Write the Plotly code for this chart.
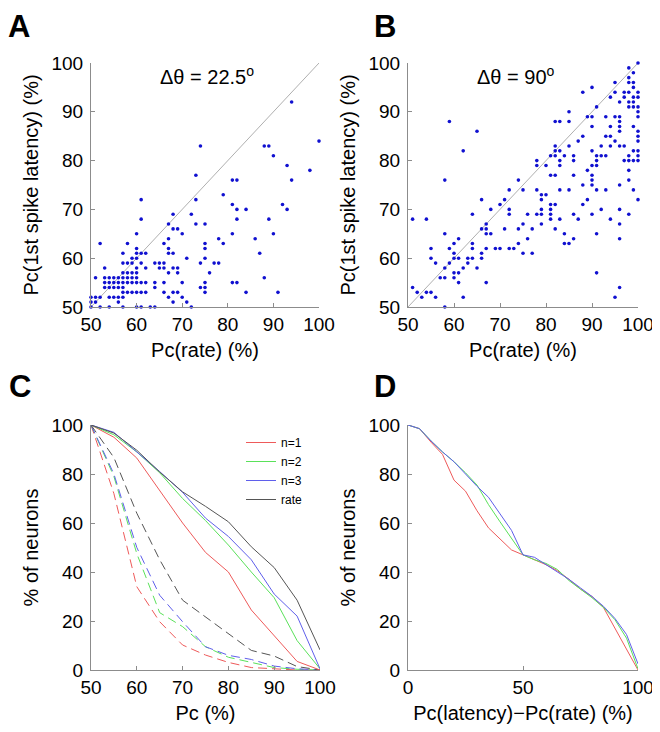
import plotly.graph_objects as go

# ---------------- data ----------------
# Panel A: (Pc(rate), Pc(1st spike latency)) for dtheta = 22.5 deg
a_points = [
    (50,52),(50,51),(50,50),(51,56),(51,52),(51,51),(52,63),(52,52),(52,50),
    (53,58),(53,56),(53,55),(53,54),(54,56),(54,55),(54,54),(54,52),(54,50),
    (55,56),(55,55),(55,54),(55,52),(56,56),(56,55),(56,54),(56,52),(56,51),
    (57,61),(57,59),(57,57),(57,56),(57,55),(57,54),(57,53),(57,52),(57,50),
    (58,63),(58,59),(58,57),(58,56),(58,55),(58,53),
    (59,60),(59,59),(59,57),(59,56),(59,55),(59,53),
    (60,65),(60,62),(60,61),(60,60),(60,58),(60,57),(60,56),(60,55),(60,53),(60,50),
    (61,72),(61,68),(61,61),(61,59),(61,55),(61,53),(61,50),
    (62,61),(62,58),(62,55),(62,53),(63,50),(64,59),(64,55),(64,54),(64,50),
    (65,59),(65,58),(66,63),(66,59),(66,58),(66,55),(66,53),
    (67,67),(67,64),(67,62),(67,61),(67,57),(67,52),
    (68,69),(68,66),(68,61),(68,58),(68,53),(68,51),
    (69,66),(69,58),(69,57),(69,53),(70,65),(70,55),(70,52),(71,60),(71,51),(72,69),(72,50),
    (73,77),(73,72),(73,67),(74,83),(74,59),(74,54),
    (75,67),(75,63),(75,62),(75,60),(75,55),(75,54),(75,53),
    (76,57),(77,59),(78,64),(78,59),(79,73),(79,63),
    (81,76),(81,71),(81,65),(81,55),(82,76),(82,70),(82,68),(82,55),
    (84,70),(84,53),(86,64),(87,61),(88,83),(88,56),(89,83),(89,68),
    (90,81),(90,65),(91,53),(92,71),(93,79),(93,70),(94,92),(94,76),(98,78),(100,84),
]
# Panel B: dtheta = 90 deg
b_points = [
    (51,68),(51,54),(52,53),(53,52),(54,68),(54,53),(55,53),(55,62),(55,60),(56,59),
    (56,52),(57,56),(58,56),(58,65),(58,76),(58,58),(58,50),(59,88),(59,59),(59,62),
    (60,63),(60,61),(60,60),(60,57),(60,56),(61,57),(61,64),(61,60),(61,55),(62,82),
    (62,52),(62,58),(63,60),(63,59),(64,69),(64,63),(64,62),(64,60),(65,86),(65,58),
    (66,66),(66,61),(66,60),(66,72),(67,67),(67,66),(67,65),(67,62),(67,55),(68,70),
    (68,65),(69,62),(70,62),(70,71),(71,72),(71,66),(72,74),(72,70),(72,69),(72,62),
    (73,62),(74,76),(74,66),(74,63),(75,74),(75,67),(75,61),(76,69),(76,64),(77,66),
    (77,61),(78,80),(78,79),(78,74),(78,69),(79,73),(79,72),(79,70),(79,69),(79,67),
    (80,73),(80,79),(81,81),(81,77),(81,71),(81,70),(81,69),(81,68),(82,88),(82,83),
    (82,82),(82,81),(82,77),(82,71),(82,66),(83,88),(83,82),(83,80),(83,79),(83,74),
    (83,68),(84,81),(84,65),(84,63),(85,90),(85,88),(85,83),(85,74),(85,63),(86,81),
    (86,80),(86,77),(86,69),(86,64),(87,84),(87,68),(88,94),(88,85),(88,75),(88,71),
    (89,89),(89,78),(89,72),(90,95),(90,89),(90,87),(90,82),(90,79),(90,77),(90,76),
    (90,75),(90,69),(91,91),(91,81),(91,80),(91,79),(91,74),(91,65),(91,57),(92,83),
    (92,81),(92,70),(93,89),(93,85),(93,81),(93,74),(94,93),(94,87),(94,85),(94,83),
    (94,68),(95,96),(95,94),(95,89),(95,84),(95,52),(96,92),(96,89),(96,88),(96,87),
    (96,86),(96,83),(96,75),(96,70),(96,67),(96,64),(96,54),(97,94),(97,93),(97,83),
    (97,80),(98,99),(98,97),(98,96),(98,94),(98,92),(98,91),(98,81),(98,80),(98,78),
    (98,76),(98,69),(99,98),(99,96),(99,95),(99,93),(99,92),(99,91),(99,87),(99,82),
    (99,80),(99,74),(100,100),(100,94),(100,93),(100,91),(100,90),(100,89),(100,86),
    (100,85),(100,84),(100,82),(100,81),(100,80),(100,72),
]

# Panel C
c_pc = [50, 55, 60, 65, 70, 75, 80, 85, 90, 95, 100]
c_solid_n1 = [100, 95, 86.5, 73, 60, 48, 40, 24.5, 14, 3.5, 0]
c_solid_n2 = [100, 96, 89, 80.5, 70, 61, 51, 40, 29.5, 12, 0.5]
c_solid_n3 = [100, 97, 89, 81, 72.5, 62, 54.5, 45, 31, 22, 0.5]
c_solid_rate = [100, 96.7, 89.7, 80.8, 72.7, 66.8, 60.5, 50.3, 41.8, 28.5, 8.2]
c_dash_n1 = [100, 72, 34, 19.7, 10.2, 6.1, 3.1, 1, 0.5, 0, 0]
c_dash_n2 = [100, 79, 47.5, 23.4, 17.7, 9.5, 5.2, 3, 1, 0.3, 0]
c_dash_n3 = [100, 80, 50, 30.5, 19.7, 9.5, 6, 4.3, 1.6, 0.5, 0]
c_dash_rate = [100, 86.7, 64, 45, 28.5, 21.7, 15, 8, 5.7, 1.4, 0]
c_labels = ["n=1", "n=2", "n=3", "rate"]

# Panel D
d_diff = [0, 5, 10, 15, 20, 25, 30, 35, 40, 45, 50, 55, 60, 65, 70, 75, 80, 85, 90, 95, 100]
d_n1 = [100, 98.5, 93, 88, 77.5, 73, 65, 58, 53.5, 49, 47, 45, 43, 40.5, 37, 33, 30, 25.5, 17, 8, 0]
d_n2 = [100, 98.5, 93.5, 89, 85, 80.5, 75.5, 67.5, 60.5, 53.5, 47, 45, 43.5, 41, 36.5, 33, 29.5, 25.5, 20.5, 13, 0.5]
d_n3 = [100, 98.5, 93.5, 89, 85, 80, 75, 70.5, 64, 57, 47, 46, 43, 40, 37, 33.5, 30, 26, 21, 14.5, 2.5]

# ---------------- styles ----------------
FONT = "Liberation Sans, Arial, sans-serif"
AXC = "#8c8c8c"
BLUE_DOT = "#1010d0"
COLS = ["rgb(238,90,90)", "rgb(90,225,90)", "rgb(95,95,235)", "rgb(85,85,85)"]
TICK_SIZE = 19
TITLE_SIZE = 20

# the page body adds an 8px offset, so the figure is 8px smaller and positions are shifted
OFF = 8
W, H = 660 - OFF, 732 - OFF
def px(x):
    return (x - OFF) / W
def py(y):
    return 1 - (y - OFF) / H
def xd(a, b):
    return [px(a), px(b)]
def yd(top, bot):
    return [py(bot), py(top)]

fig = go.Figure()

# Panel A
ax, ay = zip(*a_points)
fig.add_trace(go.Scatter(x=[50, 100], y=[50, 100], mode="lines",
                         line=dict(color="#9a9a9a", width=0.8),
                         xaxis="x", yaxis="y", showlegend=False, hoverinfo="skip"))
fig.add_trace(go.Scatter(x=list(ax), y=list(ay), mode="markers",
                         marker=dict(color=BLUE_DOT, size=3.6),
                         xaxis="x", yaxis="y", showlegend=False, cliponaxis=False))
# Panel B
bx, by = zip(*b_points)
fig.add_trace(go.Scatter(x=[50, 100], y=[50, 100], mode="lines",
                         line=dict(color="#9a9a9a", width=0.8),
                         xaxis="x2", yaxis="y2", showlegend=False, hoverinfo="skip"))
fig.add_trace(go.Scatter(x=list(bx), y=list(by), mode="markers",
                         marker=dict(color=BLUE_DOT, size=3.6),
                         xaxis="x2", yaxis="y2", showlegend=False, cliponaxis=False))

# Panel C
solids = [c_solid_n1, c_solid_n2, c_solid_n3, c_solid_rate]
dashes = [c_dash_n1, c_dash_n2, c_dash_n3, c_dash_rate]
for i in range(4):
    fig.add_trace(go.Scatter(x=c_pc, y=dashes[i], mode="lines",
                             line=dict(color=COLS[i], width=1, dash="9px,5px"),
                             xaxis="x3", yaxis="y3", showlegend=False))
for i in range(4):
    fig.add_trace(go.Scatter(x=c_pc, y=solids[i], mode="lines", name=c_labels[i],
                             line=dict(color=COLS[i], width=1),
                             xaxis="x3", yaxis="y3", showlegend=True))

# Panel D
for i, d in enumerate([d_n1, d_n2, d_n3]):
    fig.add_trace(go.Scatter(x=d_diff, y=d, mode="lines",
                             line=dict(color=COLS[i], width=1),
                             xaxis="x4", yaxis="y4", showlegend=False))

def axis(domain, rng, dtick, title, anchor, standoff, lab_off=0):
    return dict(domain=domain, range=rng, dtick=dtick, tick0=0,
                showline=True, linecolor=AXC, linewidth=1, mirror=False,
                ticks="inside", ticklen=4, tickcolor=AXC, tickwidth=1,
                showgrid=False, zeroline=False, anchor=anchor, automargin=False,
                ticklabelstandoff=lab_off,
                tickfont=dict(size=TICK_SIZE, color="black", family=FONT),
                title=dict(text=title, font=dict(size=TITLE_SIZE, color="black", family=FONT),
                           standoff=standoff))

def letter(t, x, y, xanchor, yanchor):
    return dict(text="<b>%s</b>" % t, x=px(x), y=py(y), xref="paper", yref="paper",
                xanchor=xanchor, yanchor=yanchor, showarrow=False, borderpad=0,
                font=dict(size=31, family=FONT, color="black"))

def label(t, x, y):
    return dict(text=t, x=px(x), y=py(y), xref="paper", yref="paper",
                xanchor="center", yanchor="middle", showarrow=False,
                font=dict(size=TITLE_SIZE, family=FONT, color="black"))

fig.update_layout(
    width=W, height=H,
    margin=dict(l=0, r=0, t=0, b=0, pad=0, autoexpand=False),
    paper_bgcolor="white", plot_bgcolor="white",
    font=dict(family=FONT, color="black"),
    xaxis=axis(xd(91, 319), [50, 100], 10, "Pc(rate) (%)", "y", 9),
    yaxis=axis(yd(63, 307), [50, 100], 10, "Pc(1st spike latency) (%)", "x", 7, 3),
    xaxis2=axis(xd(408, 638), [50, 100], 10, "Pc(rate) (%)", "y2", 9),
    yaxis2=axis(yd(63, 307), [50, 100], 10, "Pc(1st spike latency) (%)", "x2", 7, 3),
    xaxis3=axis(xd(91, 320), [50, 100], 10, "Pc (%)", "y3", 9),
    yaxis3=axis(yd(425, 670), [0, 100], 20, "% of neurons", "x3", 7, 3),
    xaxis4=axis(xd(408, 638), [0, 100], 50, "Pc(latency)\u2212Pc(rate) (%)", "y4", 9),
    yaxis4=axis(yd(425, 670), [0, 100], 20, "% of neurons", "x4", 7, 3),
    legend=dict(x=px(241), y=py(428), xanchor="left", yanchor="top",
                bgcolor="rgba(0,0,0,0)", font=dict(size=12, family=FONT, color="black"),
                tracegroupgap=0),
    annotations=[
        letter("A", 19, 8, "center", "top"), letter("B", 385, 8, "center", "top"),
        letter("C", 8, 386, "left", "middle"), letter("D", 385, 386, "center", "middle"),
        label("\u0394\u03b8 = 22.5<sup>o</sup>", 207, 75),
        label("\u0394\u03b8 = 90<sup>o</sup>", 516, 75),
    ],
)

fig.write_html("out.html")
